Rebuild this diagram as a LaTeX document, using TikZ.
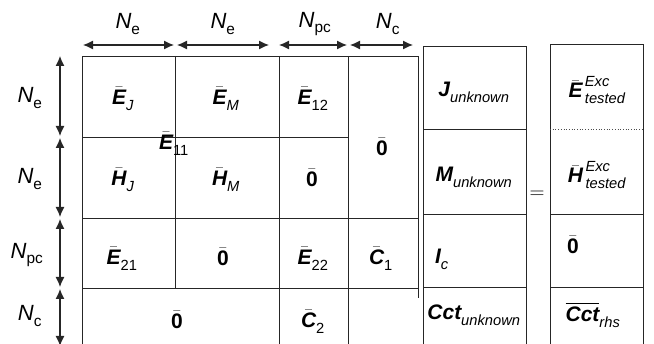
\documentclass[tikz,border=0pt]{standalone}
\usepackage{amsmath}
\usepackage{fontspec}
\setmainfont{Liberation Sans}
\usetikzlibrary{arrows.meta}
\newcommand\Bx[1]{\text{\bfseries\itshape #1\rule[-0.26em]{0pt}{0.1em}}}
\newcommand\Bz{\bar{\text{\bfseries 0}}}
\newcommand\Bb[1]{\bar{\Bx{#1}}}
\newcommand\Ix[1]{\text{\normalfont\itshape #1}}
\newcommand\Rx[1]{\text{\normalfont #1}}
\newcommand\Lx[1]{\text{\normalfont\itshape #1\rule[-0.22em]{0pt}{0.1em}}}
\begin{document}
\begin{tikzpicture}[x=1pt,y=-1pt,
  grid/.style={line width=0.9pt,draw=black!85},
  dim/.style={line width=1.2pt,draw=black!85,{Latex[length=10pt,width=9pt]}-{Latex[length=10pt,width=9pt]}},
  ent/.style={inner sep=0pt,font=\fontsize{21}{24}\selectfont},
  lab/.style={inner sep=0pt,font=\fontsize{22}{25}\selectfont}]
\useasboundingbox (0,0) rectangle (654,344);
\clip (0,0) rectangle (654,344);
% dimension coordinates
\coordinate (t0) at (83,45); \coordinate (t1) at (174,45);
\coordinate (t2) at (177,45); \coordinate (t3) at (269,45);
\coordinate (t4) at (279,45); \coordinate (t5) at (347,45);
\coordinate (t6) at (350,45); \coordinate (t7) at (413,45);
\draw[dim] (t0) -- (t1);
\draw[dim] (t2) -- (t3);
\draw[dim] (t4) -- (t5);
\draw[dim] (t6) -- (t7);
\coordinate (l0) at (60,56); \coordinate (l1) at (60,136);
\coordinate (l2) at (60,138); \coordinate (l3) at (60,217);
\coordinate (l4) at (60,219); \coordinate (l5) at (60,287);
\coordinate (l6) at (60,289); \coordinate (l7) at (60,346);
\draw[dim] (l0) -- (l1);
\draw[dim] (l2) -- (l3);
\draw[dim] (l4) -- (l5);
\draw[dim] (l6) -- (l7);
% dimension labels
\node[lab] (nt1) at (128,24) {$\Lx{N}_{\Rx{e}}$};
\node[lab] (nt2) at (223,24) {$\Lx{N}_{\Rx{e}}$};
\node[lab] (nt3) at (315,24) {$\Lx{N}_{\Rx{pc}}$};
\node[lab] (nt4) at (388,24) {$\Lx{N}_{\Rx{c}}$};
\node[lab] (nl1) at (30,98) {$\Lx{N}_{\Rx{e}}$};
\node[lab] (nl2) at (30,179) {$\Lx{N}_{\Rx{e}}$};
\node[lab] (nl3) at (27,255) {$\Lx{N}_{\Rx{pc}}$};
\node[lab] (nl4) at (30,316) {$\Lx{N}_{\Rx{c}}$};
% main matrix grid
\draw[grid] (82,360) -- (82,56) -- (418,56) -- (418,298);
\draw[grid] (175,56) -- (175,288);
\draw[grid] (279,56) -- (279,360);
\draw[grid] (348,56) -- (348,360);
\draw[grid] (82,137) -- (348,137);
\draw[grid] (82,218) -- (418,218);
\draw[grid] (82,288) -- (418,288);
% matrix entries
\node[ent] (ej) at (123,99) {$\Bb{E}_{\Ix{J}}$};
\node[ent] (em) at (226,99) {$\Bb{E}_{\Ix{M}}$};
\node[ent] (e12) at (313,99) {$\Bb{E}_{\Rx{12}}$};
\node[ent] (z14) at (382,147) {$\Bz$};
\node[ent] (e11) at (174,144) {$\Bb{E}_{\Rx{11}}$};
\node[ent] (hj) at (123,180) {$\Bb{H}_{\Ix{J}}$};
\node[ent] (hm) at (226,180) {$\Bb{H}_{\Ix{M}}$};
\node[ent] (z23) at (312,178) {$\Bz$};
\node[ent] (e21) at (122,259) {$\Bb{E}_{\Rx{21}}$};
\node[ent] (z32) at (223,257) {$\Bz$};
\node[ent] (e22) at (313,259) {$\Bb{E}_{\Rx{22}}$};
\node[ent] (c1) at (381,259) {$\Bb{C}_{\Rx{1}}$};
\node[ent] (z41) at (177,320) {$\Bz$};
\node[ent] (c2) at (313,322) {$\Bb{C}_{\Rx{2}}$};
% unknown vector
\draw[grid] (423,360) -- (423,46) -- (526,46) -- (526,360);
\draw[grid] (423,129) -- (526,129);
\draw[grid] (423,214) -- (526,214);
\draw[grid] (423,287) -- (526,287);
\node[ent] (ju) at (474,92) {$\Bx{J}_{\Ix{unknown}}$};
\node[ent] (mu) at (474,177) {$\Bx{M}_{\Ix{unknown}}$};
\node[ent] (ic) at (442,259) {$\Bx{I}_{\Ix{c}}$};
\node[ent] (cu) at (474,315) {$\Bx{Cct}_{\Ix{unknown}}$};
% equals
\node[ent] (eq) at (537,195) {$=$};
% rhs vector
\draw[grid] (550,360) -- (550,44) -- (643,44) -- (643,360);
\draw[line width=0.7pt,draw=black!70,dotted] (550,129) -- (643,129);
\draw[grid] (550,214) -- (643,214);
\draw[grid] (550,287) -- (643,287);
\node[ent] (ee) at (597,90) {$\Bb{E}^{\,\Ix{Exc}}_{\,\Ix{tested}}$};
\node[ent] (he) at (597,175) {$\Bb{H}^{\,\Ix{Exc}}_{\,\Ix{tested}}$};
\node[ent] (z0) at (573,245) {$\Bz$};
\node[ent] (cr) at (593,315) {$\overline{\Bx{Cct}}_{\Ix{rhs}}$};
\end{tikzpicture}
\end{document}
